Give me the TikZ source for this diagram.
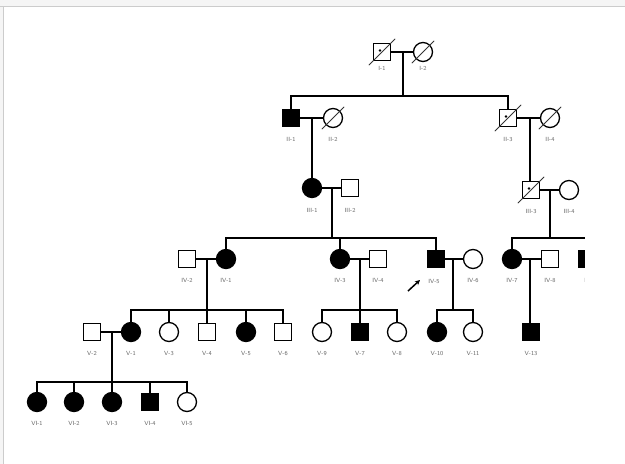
\documentclass[tikz,border=0pt]{standalone}
\usetikzlibrary{arrows.meta}
\begin{document}
\begin{tikzpicture}[x=1pt,y=-1pt,
  sq/.style={draw, line width=1.3pt, rectangle, minimum size=17pt, inner sep=0pt},
  ci/.style={draw, line width=1.3pt, circle, minimum size=19pt, inner sep=0pt},
  aff/.style={fill=black},
  lab/.style={font=\fontsize{6}{7}\selectfont\sffamily, text=black!60, inner sep=0pt},
  ln/.style={line width=1.4pt},
  slash/.style={line width=0.9pt, black!80}]
\useasboundingbox (0,0) rectangle (625,464);
\fill[black!4] (0,0) rectangle (625,464);
\fill[white] (3,6) rectangle (625,464);
% Generation I
\node[sq] (I1) at (382,52) {};
\node[ci] (I2) at (423,52) {};
% Generation II
\node[sq,aff] (II1) at (291,118) {};
\node[ci] (II2) at (333,118) {};
\node[sq] (II3) at (508,118) {};
\node[ci] (II4) at (550,118) {};
% Generation III
\node[ci,aff] (III1) at (312,188) {};
\node[sq] (III2) at (350,188) {};
\node[sq] (III3) at (531,190) {};
\node[ci] (III4) at (569,190) {};
% Generation IV
\node[sq] (IV2) at (187,259) {};
\node[ci,aff] (IV1) at (226,259) {};
\node[ci,aff] (IV3) at (340,259) {};
\node[sq] (IV4) at (378,259) {};
\node[sq,aff] (IV5) at (436,259) {};
\node[ci] (IV6) at (473,259) {};
\node[ci,aff] (IV7) at (512,259) {};
\node[sq] (IV8) at (550,259) {};
\node[sq,aff] (IV9) at (587,259) {};
% Generation V
\node[sq] (V2) at (92,332) {};
\node[ci,aff] (V1) at (131,332) {};
\node[ci] (V3) at (169,332) {};
\node[sq] (V4) at (207,332) {};
\node[ci,aff] (V5) at (246,332) {};
\node[sq] (V6) at (283,332) {};
\node[ci] (V9) at (322,332) {};
\node[sq,aff] (V7) at (360,332) {};
\node[ci] (V8) at (397,332) {};
\node[ci,aff] (V10) at (437,332) {};
\node[ci] (V11) at (473,332) {};
\node[sq,aff] (V13) at (531,332) {};
% Generation VI
\node[ci,aff] (VI1) at (37,402) {};
\node[ci,aff] (VI2) at (74,402) {};
\node[ci,aff] (VI3) at (112,402) {};
\node[sq,aff] (VI4) at (150,402) {};
\node[ci] (VI5) at (187,402) {};
% deceased marks
\foreach \n in {I1,I2,II2,II3,II4,III3}
  \draw[slash] ([shift={(-4pt,-4pt)}]\n.south west) -- ([shift={(4pt,4pt)}]\n.north east);
\foreach \n in {I1,II3,III3}
  \fill ([shift={(-2pt,1.5pt)}]\n.center) circle (1.3pt);
% couples and descent
\coordinate (mI) at (403,52);   \coordinate (sI) at (403,96);
\draw[ln] (I1) -- (I2); \draw[ln] (mI) -- (sI);
\draw[ln] (II1.north) |- (sI) -| (II3.north);
\coordinate (mII) at (312,118);
\draw[ln] (II1) -- (II2); \draw[ln] (mII) -- (III1.north);
\coordinate (mIIb) at (530,118);
\draw[ln] (II3) -- (II4); \draw[ln] (mIIb) -- (III3.north -| mIIb);
\coordinate (mIII) at (332,188); \coordinate (sIII) at (332,238);
\draw[ln] (III1) -- (III2); \draw[ln] (mIII) -- (sIII);
\draw[ln] (IV1.north) |- (sIII) -| (IV5.north);
\draw[ln] (IV3.north) -- (IV3.north |- sIII);
\coordinate (mIIIb) at (550,190); \coordinate (sIIIb) at (550,238);
\draw[ln] (III3) -- (III4); \draw[ln] (mIIIb) -- (sIIIb);
\draw[ln] (IV7.north) |- (sIIIb) -| (IV9.north);
% IV couples
\coordinate (mIVa) at (207,259); \coordinate (sIVa) at (207,310);
\draw[ln] (IV2) -- (IV1); \draw[ln] (mIVa) -- (sIVa);
\draw[ln] (V1.north) |- (sIVa) -| (V6.north);
\foreach \n in {V3,V4,V5} \draw[ln] (\n.north) -- (\n.north |- sIVa);
\coordinate (mIVb) at (360,259); \coordinate (sIVb) at (360,310);
\draw[ln] (IV3) -- (IV4); \draw[ln] (mIVb) -- (V7.north);
\draw[ln] (V9.north) |- (sIVb) -| (V8.north);
\coordinate (mIVc) at (453,259); \coordinate (sIVc) at (453,310);
\draw[ln] (IV5) -- (IV6); \draw[ln] (mIVc) -- (sIVc);
\draw[ln] (V10.north) |- (sIVc) -| (V11.north);
\coordinate (mIVd) at (530,259);
\draw[ln] (IV7) -- (IV8); \draw[ln] (mIVd) -- (V13.north -| mIVd);
% V couple
\coordinate (mV) at (112,332); \coordinate (sV) at (112,382);
\draw[ln] (V2) -- (V1); \draw[ln] (mV) -- (sV);
\draw[ln] (VI1.north) |- (sV) -| (VI5.north);
\foreach \n in {VI2,VI3,VI4} \draw[ln] (\n.north) -- (\n.north |- sV);
% proband arrow
\coordinate (pa) at (408,291); \coordinate (pb) at (420,280);
\draw[line width=1.5pt,-{Stealth[length=5pt,width=5pt]}] (pa) -- (pb);
% labels
\foreach \n/\t/\x/\y in {I1/I-1/382/68, I2/I-2/423/68,
  II1/II-1/291/139, II2/II-2/333/139, II3/II-3/508/139, II4/II-4/550/139,
  III1/III-1/312/210, III2/III-2/350/210, III3/III-3/531/211, III4/III-4/569/211,
  IV2/IV-2/187/280, IV1/IV-1/226/280, IV3/IV-3/340/280, IV4/IV-4/378/280,
  IV5/IV-5/434/281, IV6/IV-6/473/280, IV7/IV-7/512/280, IV8/IV-8/550/280, IV9/IV-9/590/280,
  V2/V-2/92/353, V1/V-1/131/353, V3/V-3/169/353, V4/V-4/207/353, V5/V-5/246/353, V6/V-6/283/353,
  V9/V-9/322/353, V7/V-7/360/353, V8/V-8/397/353, V10/V-10/437/353, V11/V-11/473/353, V13/V-13/531/353,
  VI1/VI-1/37/423, VI2/VI-2/74/423, VI3/VI-3/112/423, VI4/VI-4/150/423, VI5/VI-5/187/423}
  \node[lab] (l\n) at (\x,\y) {\t};
% cropped right edge
\fill[white] (585,7) rectangle (625,464);
\draw[black!20, line width=1pt] (0,6) -- (625,6);
\draw[black!20, line width=1pt] (3,6) -- (3,464);
\end{tikzpicture}
\end{document}
